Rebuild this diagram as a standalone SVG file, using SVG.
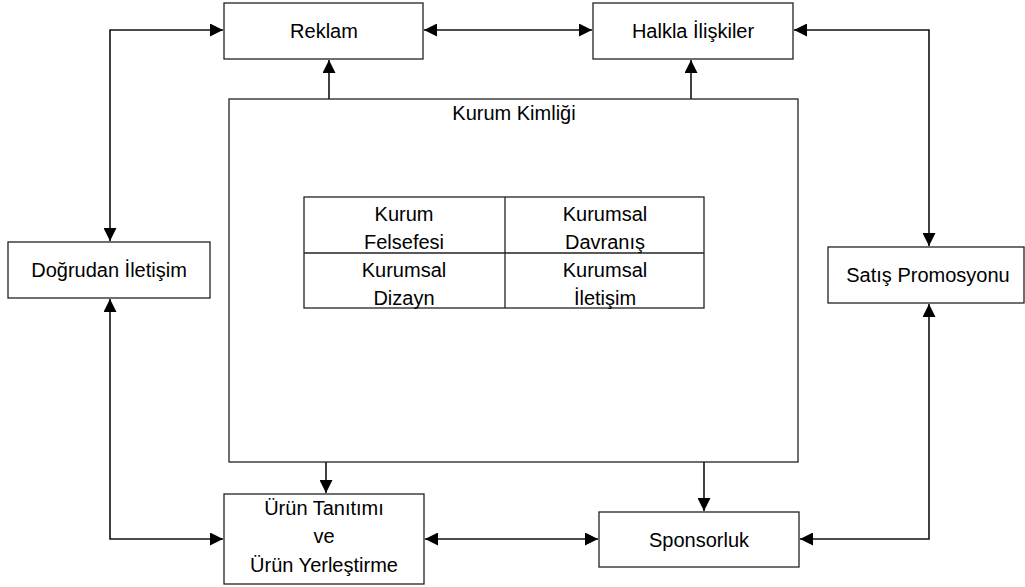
<svg xmlns="http://www.w3.org/2000/svg" width="1025" height="587" viewBox="0 0 1025 587">
<style>
.box{fill:#fff;stroke:#222;stroke-width:1.3}
.t{font-family:"Liberation Sans",Arial,sans-serif;font-size:20px;fill:#000;text-anchor:middle}
.c{fill:none;stroke:#111;stroke-width:1.6}
</style>
<defs>
<marker id="ah" viewBox="0 0 10 10" refX="10" refY="5" markerWidth="13" markerHeight="13" markerUnits="userSpaceOnUse" orient="auto-start-reverse">
<path d="M0,0 L10,5 L0,10 z" fill="#000"/>
</marker>
</defs>
<rect width="1025" height="587" fill="#fff"/>
<g id="connectors">
<polyline class="c" points="110,241 110,30 223,30" marker-start="url(#ah)" marker-end="url(#ah)"/>
<line class="c" x1="424" y1="30" x2="592" y2="30" marker-start="url(#ah)" marker-end="url(#ah)"/>
<polyline class="c" points="794,30 929,30 929,246" marker-start="url(#ah)" marker-end="url(#ah)"/>
<line class="c" x1="329" y1="99" x2="329" y2="60" marker-end="url(#ah)"/>
<line class="c" x1="691" y1="99" x2="691" y2="60" marker-end="url(#ah)"/>
<polyline class="c" points="110,299 110,539 223,539" marker-start="url(#ah)" marker-end="url(#ah)"/>
<line class="c" x1="425" y1="539" x2="598" y2="539" marker-start="url(#ah)" marker-end="url(#ah)"/>
<polyline class="c" points="800,539 929,539 929,304" marker-start="url(#ah)" marker-end="url(#ah)"/>
<line class="c" x1="326" y1="462" x2="326" y2="493" marker-end="url(#ah)"/>
<line class="c" x1="704" y1="462" x2="704" y2="511" marker-end="url(#ah)"/>
</g>
<g id="reklam"><rect class="box" x="224" y="3" width="199" height="56"/><text class="t" x="324" y="38">Reklam</text></g>
<g id="halkla"><rect class="box" x="593" y="3" width="200" height="56"/><text class="t" x="693" y="38">Halkla İlişkiler</text></g>
<g id="dogrudan"><rect class="box" x="8" y="242" width="202" height="56"/><text class="t" x="109" y="277">Doğrudan İletişim</text></g>
<g id="satis"><rect class="box" x="828" y="247" width="196" height="56"/><text class="t" x="928" y="282">Satış Promosyonu</text></g>
<g id="kurum-kimligi">
<rect class="box" x="229" y="99" width="569" height="363"/>
<text class="t" x="514" y="120">Kurum Kimliği</text>
<rect class="box" x="304" y="197" width="400" height="111"/>
<line class="box" x1="304" y1="253" x2="704" y2="253"/>
<line class="box" x1="505" y1="197" x2="505" y2="308"/>
<text class="t" x="404" y="221">Kurum</text>
<text class="t" x="404" y="249">Felsefesi</text>
<text class="t" x="605" y="221">Kurumsal</text>
<text class="t" x="605" y="249">Davranış</text>
<text class="t" x="404" y="277">Kurumsal</text>
<text class="t" x="404" y="305">Dizayn</text>
<text class="t" x="605" y="277">Kurumsal</text>
<text class="t" x="605" y="305">İletişim</text>
</g>
<g id="urun"><rect class="box" x="224" y="494" width="200" height="90"/>
<text class="t" x="324" y="515">Ürün Tanıtımı</text>
<text class="t" x="324" y="543">ve</text>
<text class="t" x="324" y="572">Ürün Yerleştirme</text></g>
<g id="sponsorluk"><rect class="box" x="599" y="512" width="200" height="55"/><text class="t" x="699" y="547">Sponsorluk</text></g>
</svg>
